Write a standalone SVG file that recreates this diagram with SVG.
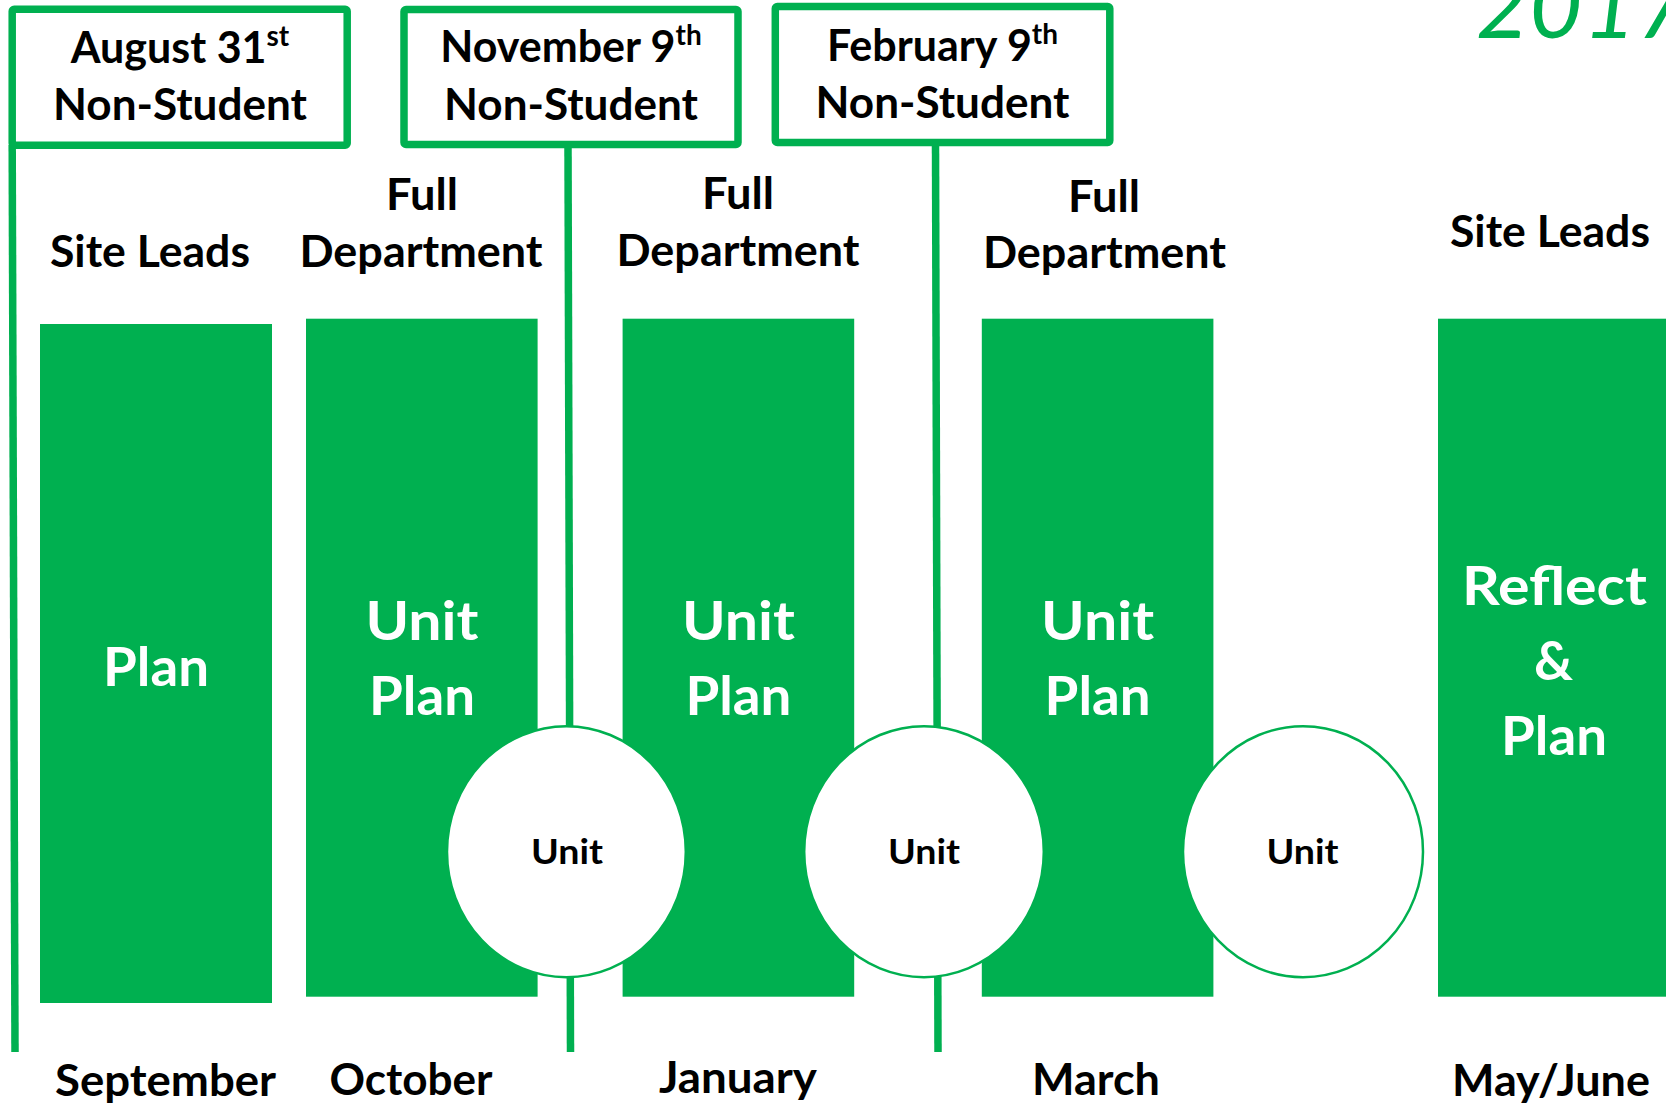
<svg xmlns="http://www.w3.org/2000/svg" width="1666" height="1106" viewBox="0 0 1666 1106">
<style>
  .lbl { font-family: Lato, "Open Sans", "Liberation Sans", sans-serif; font-weight: bold; font-size: 43px; fill: #000; text-anchor: middle; }
  .big { font-size: 54px; fill: #fff; }
  .unit { font-size: 34px; }
  .sup { font-size: 28px; }
  .box { fill: #fff; stroke: #00B050; stroke-width: 7.5; }
  .bar { fill: #00B050; }
  .conn { stroke: #00B050; stroke-width: 7.5; fill: none; }
  .circ { fill: #fff; stroke: #00B050; stroke-width: 2.5; }
  .year { font-family: Lato, "Liberation Sans", sans-serif; font-style: italic; font-size: 92px; fill: #00B050; }
</style>
<rect x="0" y="0" width="1666" height="1106" fill="#fff"/>

<g id="connectors">
  <line class="conn" x1="12.2" y1="145" x2="15" y2="1052"/>
  <line class="conn" x1="568" y1="145" x2="570.5" y2="1052"/>
  <line class="conn" x1="935.5" y1="142" x2="938" y2="1052"/>
</g>

<g id="year"><text class="year" x="1476" y="38">2017</text></g>

<g id="box-aug">
  <rect class="box" x="12.2" y="9.2" width="335" height="136" rx="2"/>
  <text class="lbl" x="180" y="63">August 31<tspan class="sup" dy="-17">st</tspan></text>
  <text class="lbl" x="180" y="120" textLength="254" lengthAdjust="spacingAndGlyphs">Non-Student</text>
</g>
<g id="box-nov">
  <rect class="box" x="404" y="9.5" width="334" height="135" rx="2"/>
  <text class="lbl" x="571" y="62">November 9<tspan class="sup" dy="-17">th</tspan></text>
  <text class="lbl" x="571" y="120" textLength="254" lengthAdjust="spacingAndGlyphs">Non-Student</text>
</g>
<g id="box-feb">
  <rect class="box" x="775.3" y="6.5" width="334.5" height="136" rx="2"/>
  <text class="lbl" x="942.5" y="61">February 9<tspan class="sup" dy="-17">th</tspan></text>
  <text class="lbl" x="942.5" y="118" textLength="254" lengthAdjust="spacingAndGlyphs">Non-Student</text>
</g>

<g id="hdr-1"><text class="lbl" x="150" y="267" textLength="200" lengthAdjust="spacingAndGlyphs">Site Leads</text></g>
<g id="hdr-2">
  <text class="lbl" x="422" y="210" textLength="72" lengthAdjust="spacingAndGlyphs">Full</text>
  <text class="lbl" x="421" y="267" textLength="243" lengthAdjust="spacingAndGlyphs">Department</text>
</g>
<g id="hdr-3">
  <text class="lbl" x="738" y="209" textLength="72" lengthAdjust="spacingAndGlyphs">Full</text>
  <text class="lbl" x="738" y="266" textLength="243" lengthAdjust="spacingAndGlyphs">Department</text>
</g>
<g id="hdr-4">
  <text class="lbl" x="1104" y="212" textLength="72" lengthAdjust="spacingAndGlyphs">Full</text>
  <text class="lbl" x="1104.5" y="268" textLength="243" lengthAdjust="spacingAndGlyphs">Department</text>
</g>
<g id="hdr-5"><text class="lbl" x="1550" y="247" textLength="200" lengthAdjust="spacingAndGlyphs">Site Leads</text></g>

<g id="bar-plan">
  <rect class="bar" x="40" y="324" width="232" height="679"/>
  <text class="lbl big" x="156" y="686" textLength="106" lengthAdjust="spacingAndGlyphs">Plan</text>
</g>
<g id="bar-unitplan-1">
  <rect class="bar" x="306" y="318.7" width="231.6" height="678"/>
  <text class="lbl big" x="422" y="640" textLength="113" lengthAdjust="spacingAndGlyphs">Unit</text>
  <text class="lbl big" x="422" y="715" textLength="106" lengthAdjust="spacingAndGlyphs">Plan</text>
</g>
<g id="bar-unitplan-2">
  <rect class="bar" x="622.6" y="318.7" width="231.6" height="678"/>
  <text class="lbl big" x="738.4" y="640" textLength="113" lengthAdjust="spacingAndGlyphs">Unit</text>
  <text class="lbl big" x="738.4" y="715" textLength="106" lengthAdjust="spacingAndGlyphs">Plan</text>
</g>
<g id="bar-unitplan-3">
  <rect class="bar" x="981.8" y="318.7" width="231.6" height="678"/>
  <text class="lbl big" x="1097.6" y="640" textLength="113" lengthAdjust="spacingAndGlyphs">Unit</text>
  <text class="lbl big" x="1097.6" y="715" textLength="106" lengthAdjust="spacingAndGlyphs">Plan</text>
</g>
<g id="bar-reflect">
  <rect class="bar" x="1438" y="318.7" width="240" height="678"/>
  <text class="lbl big" x="1554.5" y="605" textLength="185" lengthAdjust="spacingAndGlyphs">Reflect</text>
  <text class="lbl big" x="1553.5" y="680">&amp;</text>
  <text class="lbl big" x="1554" y="755" textLength="106" lengthAdjust="spacingAndGlyphs">Plan</text>
</g>

<g id="unit-1">
  <ellipse class="circ" cx="566.4" cy="851.7" rx="119.4" ry="125.5"/>
  <text class="lbl unit" x="567" y="864" textLength="72" lengthAdjust="spacingAndGlyphs">Unit</text>
</g>
<g id="unit-2">
  <ellipse class="circ" cx="924" cy="851.7" rx="119.8" ry="125.5"/>
  <text class="lbl unit" x="924" y="864" textLength="72" lengthAdjust="spacingAndGlyphs">Unit</text>
</g>
<g id="unit-3">
  <ellipse class="circ" cx="1303" cy="851.7" rx="120" ry="125.5"/>
  <text class="lbl unit" x="1302.6" y="864" textLength="72" lengthAdjust="spacingAndGlyphs">Unit</text>
</g>

<g id="months">
  <text class="lbl" x="165.5" y="1096" textLength="221" lengthAdjust="spacingAndGlyphs">September</text>
  <text class="lbl" x="411" y="1095" textLength="163" lengthAdjust="spacingAndGlyphs">October</text>
  <text class="lbl" x="738" y="1093" textLength="158" lengthAdjust="spacingAndGlyphs">January</text>
  <text class="lbl" x="1096" y="1095" textLength="128" lengthAdjust="spacingAndGlyphs">March</text>
  <text class="lbl" x="1551" y="1096" textLength="198" lengthAdjust="spacingAndGlyphs">May/June</text>
</g>
</svg>
